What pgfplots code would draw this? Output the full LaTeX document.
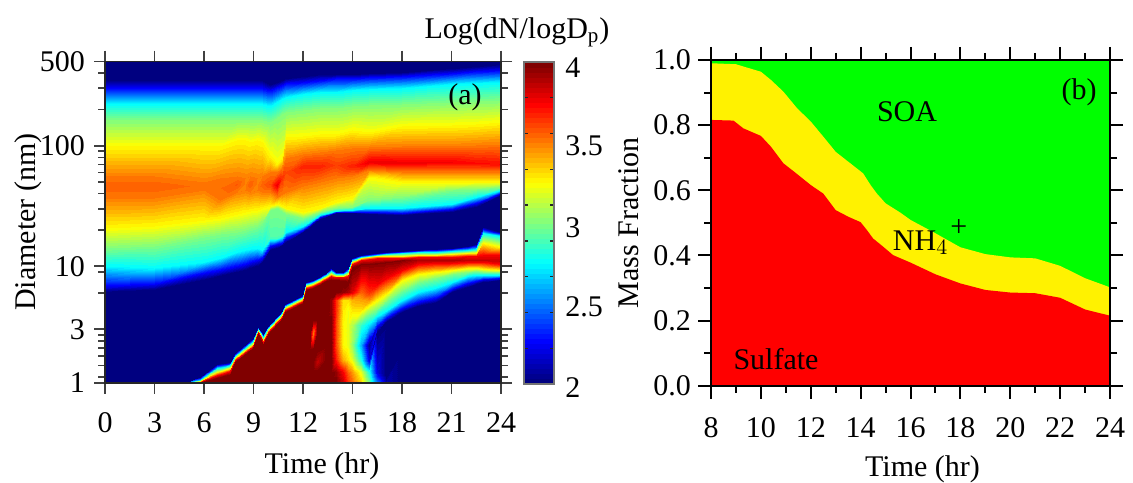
\documentclass[border=0pt]{standalone}
\usepackage{pgfplots}
\pgfplotsset{compat=1.18}
\usepackage{fontspec}
\setmainfont{Liberation Serif}
\pgfplotsset{colormap/jet, colormap={jb}{samples of colormap=(64 of jet)}}
\definecolor{dkb}{RGB}{0,0,128}
\definecolor{pure green}{RGB}{0,255,0}
\newcommand{\fs}{\fontsize{15}{17}\selectfont}
\begin{document}
\begin{tikzpicture}[x=1pt,y=1pt]
\path[use as bounding box] (0,0) rectangle (566.5,241);
\begin{axis}[at={(52.5pt,49.65pt)},anchor=south west,scale only axis,width=198pt,height=160.6pt,
 ymode=log,xmin=0,xmax=24,ymin=1.08,ymax=500,
 xtick={0,3,...,24},ytick={1.08,3,10,100,500},yticklabels={\raisebox{-2.5pt}{1},3,10,100,500},log ticks with fixed point,
 minor ytick={1.2,1.5,1.8,2.1,2.4,2.7,6,9,20,30,40,50,60,70,80,90,200,300,400},
 tick align=outside,xtick pos=both,ytick pos=both,xticklabel pos=bottom,yticklabel pos=left,
 major tick length=5.5pt,minor tick length=3.4pt,
 every tick/.style={black!75,line width=0.8pt},
 axis line style={black!85,line width=0.9pt},
 axis on top,axis background/.style={fill=dkb},
 colormap name=jb,point meta min=2,point meta max=4,
 ticklabel style={font=\fs},/pgf/number format/assume math mode=true,
 xticklabel style={yshift=-6pt},yticklabel style={xshift=-1pt},
 label style={font=\fs},xlabel={Time (hr)},ylabel={Diameter (nm)},
 xlabel style={at={(axis description cs:0.5,0)},anchor=center,yshift=-42pt,xshift=9.5pt},
 ylabel style={at={(axis description cs:0,0.5)},anchor=center,rotate=0,yshift=38.5pt}]
\addplot[surf,shader=interp,colormap access=piecewise constant,mesh/cols=14,point meta=explicit] table[x=t,y=d,meta=v,row sep=\\]{t d v\\
0 500 2\\0 351 2\\0 302 2.25\\0 222 2.75\\0 164 3\\0 99.4 3.25\\0 56.1 3.5\\0 46.3 3.56\\0 36.9 3.5\\0 20.8 3.25\\0 14.2 3\\0 10.1 2.75\\0 6.9 2.25\\0 6.1 2\\
3 500 2\\3 351 2\\3 302 2.25\\3 222 2.75\\3 164 3\\3 99.4 3.25\\3 56.1 3.5\\3 46.3 3.56\\3 36.9 3.5\\3 21.6 3.25\\3 14.7 3\\3 9.7 2.75\\3 7.15 2.25\\3 6.35 2\\
6 500 2\\6 351 2\\6 302 2.25\\6 222 2.75\\6 164 3\\6 99.4 3.25\\6 50 3.5\\6 46.3 3.52\\6 42.9 3.5\\6 24.2 3.25\\6 17.5 3\\6 10.9 2.75\\6 8.8 2.25\\6 7.7 2\\
7 500 2\\7 351 2\\7 302 2.25\\7 222 2.75\\7 164 3\\7 99.4 3.25\\7 54 3.5\\7 44.6 3.53\\7 35.5 3.5\\7 25.2 3.25\\7 18.5 3\\7 11.7 2.75\\7 9.3 2.25\\7 8.33 2\\
8 500 2\\8 351 2\\8 302 2.25\\8 222 2.75\\8 164 3\\8 111 3.25\\8 56.1 3.5\\8 48.2 3.57\\8 41.3 3.5\\8 27.2 3.25\\8 19.3 3\\8 13.2 2.75\\8 10.1 2.25\\8 9 2\\
8.5 500 2\\8.5 351 2\\8.5 302 2.25\\8.5 222 2.75\\8.5 164 3\\8.5 111 3.25\\8.5 54 3.5\\8.5 48.2 3.49\\8.5 42.9 3.5\\8.5 28.2 3.25\\8.5 20 3\\8.5 13.7 2.75\\8.5 10.5 2.25\\8.5 9.3 2\\
8.8 500 2\\8.8 351 2\\8.8 302 2.25\\8.8 222 2.75\\8.8 164 3\\8.8 107 3.25\\8.8 56.1 3.5\\8.8 48.2 3.56\\8.8 41.3 3.5\\8.8 28.7 3.25\\8.8 20.8 3\\8.8 13.9 2.75\\8.8 10.9 2.25\\8.8 9.7 2\\
9.2 500 2\\9.2 351 2\\9.2 302 2.25\\9.2 222 2.75\\9.2 164 3\\9.2 111 3.25\\9.2 54 3.5\\9.2 48.2 3.49\\9.2 42.9 3.5\\9.2 29.3 3.25\\9.2 21.6 3\\9.2 14.2 2.75\\9.2 11.3 2.25\\9.2 10.1 2\\
9.5 500 2\\9.5 351 2\\9.5 302 2.25\\9.5 222 2.75\\9.5 164 3\\9.5 107 3.25\\9.5 56.1 3.5\\9.5 48.2 3.55\\9.5 41.3 3.5\\9.5 30.5 3.25\\9.5 23.3 3\\9.5 13.7 2.75\\9.5 11.7 2.25\\9.5 10.9 2\\
10 500 2\\10 325 2\\10 290 2.25\\10 214 2.75\\10 158 3\\10 83.7 3.25\\10 60.5 3.5\\10 48.2 3.6\\10 41.3 3.5\\10 31.6 3.25\\10 29.3 3\\10 17.2 2.9\\10 14.7 2.25\\10 13.7 2\\
10.4 500 2\\10.4 338 2\\10.4 307 2.25\\10.4 231 2.75\\10.4 170 3\\10.4 71.9 3.25\\10.4 60.5 3.5\\10.4 47.2 3.78\\10.4 37.6 3.5\\10.4 32.9 3.25\\10.4 30.5 3\\10.4 17.2 2.9\\10.4 15.3 2.25\\10.4 14.2 2\\
10.7 500 2\\10.7 351 2\\10.7 319 2.25\\10.7 244 2.75\\10.7 184 3\\10.7 79.1 3.25\\10.7 65.3 3.5\\10.7 54 3.65\\10.7 39.8 3.5\\10.7 31.6 3.25\\10.7 28.7 3\\10.7 17.8 2.9\\10.7 15.6 2.25\\10.7 15 2\\
11 500 2\\11 365 2\\11 331 2.25\\11 254 2.75\\11 191 3\\11 118 3.25\\11 79.1 3.5\\11 60.5 3.6\\11 41.3 3.5\\11 30.5 3.25\\11 27.2 3\\11 19.3 2.75\\11 17.2 2.25\\11 15.9 2\\
12 500 2\\12 379 2\\12 338 2.25\\12 269 2.75\\12 198 3\\12 121 3.25\\12 85.3 3.5\\12 67.9 3.68\\12 46.3 3.5\\12 28.2 3.25\\12 25.2 3\\12 21.6 2.75\\12 20 2.25\\12 19.3 2\\
13 500 2\\13 394 2\\13 351 2.25\\13 280 2.75\\13 206 3\\13 125 3.25\\13 88.7 3.5\\13 67.9 3.68\\13 50 3.5\\13 30.5 3.25\\13 28.2 3\\13 26.6 2.75\\13 25.6 2.25\\13 24.7 2\\
14 500 2\\14 394 2\\14 365 2.25\\14 280 2.75\\14 206 3\\14 125 3.25\\14 92.1 3.5\\14 69.2 3.62\\14 54 3.5\\14 34.2 3.25\\14 30.5 3\\14 28.7 2.75\\14 28.2 2.25\\14 27.7 2\\
15 500 2\\15 394 2\\15 365 2.25\\15 290 2.75\\15 214 3\\15 135 3.25\\15 95.7 3.5\\15 67.9 3.68\\15 56.1 3.5\\15 36.9 3.25\\15 31 3\\15 29.3 2.75\\15 28.2 2.25\\15 27.7 2\\
16 500 2\\16 402 2\\16 372 2.25\\16 296 2.75\\16 218 3\\16 130 3.25\\16 97.5 3.5\\16 73.3 3.78\\16 62.9 3.5\\16 55 3.25\\16 35.5 3\\16 30.5 2.75\\16 28.2 2.25\\16 27.2 2\\
18 500 2\\18 410 2\\18 379 2.25\\18 302 2.75\\18 222 3\\18 146 3.25\\18 99.4 3.5\\18 71.9 3.78\\18 60.5 3.5\\18 50 3.25\\18 37.6 3\\18 30.5 2.75\\18 27.7 2.25\\18 26.6 2\\
21 500 2\\21 442 2\\21 402 2.25\\21 325 2.75\\21 231 3\\21 149 3.25\\21 99.4 3.5\\21 73.3 3.75\\21 60.5 3.5\\21 50 3.25\\21 42.9 3\\21 32.9 2.75\\21 29.9 2.25\\21 28.2 2\\
22.5 500 2\\22.5 459 2\\22.5 417 2.25\\22.5 331 2.75\\22.5 235 3\\22.5 152 3.25\\22.5 101 3.5\\22.5 71.9 3.73\\22.5 60.5 3.5\\22.5 50 3.25\\22.5 43.7 3\\22.5 37.6 2.75\\22.5 33.5 2.25\\22.5 31 2\\
24 500 2\\24 477 2\\24 425 2.25\\24 338 2.75\\24 239 3\\24 158 3.25\\24 103 3.5\\24 70.5 3.72\\24 60.5 3.5\\24 50 3.25\\24 45.5 3\\24 42.9 2.75\\24 40.5 2.25\\24 39 2\\
};
\addplot[surf,shader=interp,colormap access=piecewise constant,mesh/cols=13,point meta=explicit] table[x=t,y=d,meta=v,row sep=\\]{t d v\\
4.9 1.08 2\\4.9 1.08 2.75\\4.9 1.08 3.25\\4.9 1.08 3.75\\4.9 1.08 4\\4.9 1.08 4\\4.9 1.08 4\\4.9 1.08 4\\4.9 1.08 4\\4.9 1.08 4\\4.9 1.08 4\\4.9 1.08 4\\4.9 1.08 4\\
5.75 1.21 2\\5.75 1.14 2.75\\5.75 1.12 3.25\\5.75 1.1 3.75\\5.75 1.08 4\\5.75 1.08 4\\5.75 1.08 4\\5.75 1.08 4\\5.75 1.08 4\\5.75 1.08 4\\5.75 1.08 4\\5.75 1.08 4\\5.75 1.08 4\\
6.8 1.55 2\\6.8 1.44 2.75\\6.8 1.33 3.25\\6.8 1.26 3.75\\6.8 1.19 4\\6.8 1.08 4\\6.8 1.08 4\\6.8 1.08 4\\6.8 1.08 4\\6.8 1.08 4\\6.8 1.08 4\\6.8 1.08 4\\6.8 1.08 4\\
7.2 1.58 2\\7.2 1.47 2.75\\7.2 1.38 3.25\\7.2 1.3 3.75\\7.2 1.23 4\\7.2 1.08 4\\7.2 1.08 4\\7.2 1.08 4\\7.2 1.08 4\\7.2 1.08 4\\7.2 1.08 4\\7.2 1.08 4\\7.2 1.08 4\\
7.6 1.61 2\\7.6 1.52 2.75\\7.6 1.44 3.25\\7.6 1.36 3.75\\7.6 1.26 4\\7.6 1.08 4\\7.6 1.08 4\\7.6 1.08 4\\7.6 1.08 4\\7.6 1.08 4\\7.6 1.08 4\\7.6 1.08 4\\7.6 1.08 4\\
7.9 1.91 2\\7.9 1.8 2.75\\7.9 1.74 3.25\\7.9 1.67 3.75\\7.9 1.61 4\\7.9 1.08 4\\7.9 1.08 4\\7.9 1.08 4\\7.9 1.08 4\\7.9 1.08 4\\7.9 1.08 4\\7.9 1.08 4\\7.9 1.08 4\\
9 2.54 2\\9 2.4 2.75\\9 2.27 3.25\\9 2.19 3.75\\9 2.1 4\\9 1.08 4\\9 1.08 4\\9 1.08 4\\9 1.08 4\\9 1.08 4\\9 1.08 4\\9 1.08 4\\9 1.08 4\\
9.3 3.14 2\\9.3 3.02 2.75\\9.3 2.9 3.25\\9.3 2.85 3.75\\9.3 2.75 4\\9.3 1.08 4\\9.3 1.08 4\\9.3 1.08 4\\9.3 1.08 4\\9.3 1.08 4\\9.3 1.08 4\\9.3 1.08 4\\9.3 1.08 4\\
9.6 2.75 2\\9.6 2.6 2.75\\9.6 2.45 3.25\\9.6 2.36 3.75\\9.6 2.23 4\\9.6 1.08 4\\9.6 1.08 4\\9.6 1.08 4\\9.6 1.08 4\\9.6 1.08 4\\9.6 1.08 4\\9.6 1.08 4\\9.6 1.08 4\\
9.9 3.2 2\\9.9 3.08 2.75\\9.9 2.96 3.25\\9.9 2.85 3.75\\9.9 2.75 4\\9.9 1.08 4\\9.9 1.08 4\\9.9 1.08 4\\9.9 1.08 4\\9.9 1.08 4\\9.9 1.08 4\\9.9 1.08 4\\9.9 1.08 4\\
10.7 4.25 2\\10.7 4.1 2.75\\10.7 3.95 3.25\\10.7 3.8 3.75\\10.7 3.65 4\\10.7 1.08 4\\10.7 1.08 4\\10.7 1.08 4\\10.7 1.08 4\\10.7 1.08 4\\10.7 1.08 4\\10.7 1.08 4\\10.7 1.08 4\\
10.9 4.87 2\\10.9 4.68 2.75\\10.9 4.5 3.25\\10.9 4.33 3.75\\10.9 4.18 4\\10.9 1.08 4\\10.9 1.08 4\\10.9 1.08 4\\10.9 1.08 4\\10.9 1.08 4\\10.9 1.08 4\\10.9 1.08 4\\10.9 1.08 4\\
12 5.8 2\\12 5.55 2.75\\12 5.35 3.25\\12 5.15 3.75\\12 4.95 4\\12 1.08 4\\12 1.08 4\\12 1.08 4\\12 1.08 4\\12 1.08 4\\12 1.08 4\\12 1.08 4\\12 1.08 4\\
12.2 7.4 2\\12.2 7.15 2.75\\12.2 6.9 3.25\\12.2 6.6 3.75\\12.2 6.35 4\\12.2 6.1 4\\12.2 4.78 4\\12.2 3.58 4\\12.2 2.8 4\\12.2 2.02 4\\12.2 1.61 4\\12.2 1.33 4\\12.2 1.08 4\\
12.4 7.55 2\\12.4 7.3 2.75\\12.4 7 3.25\\12.4 6.75 3.75\\12.4 6.5 4\\12.4 6.1 4\\12.4 4.78 4\\12.4 3.58 4\\12.4 2.8 4\\12.4 2.02 4\\12.4 1.61 4\\12.4 1.33 4\\12.4 1.08 4\\
12.6 7.7 2\\12.6 7.4 2.75\\12.6 7.15 3.25\\12.6 6.9 3.75\\12.6 6.6 4\\12.6 6.1 4\\12.6 4.78 4\\12.6 3.58 4\\12.6 2.8 3.5\\12.6 2.02 4\\12.6 1.61 4\\12.6 1.33 4\\12.6 1.08 4\\
12.85 8 2\\12.85 7.7 2.75\\12.85 7.4 3.25\\12.85 7.15 3.75\\12.85 6.9 4\\12.85 6.1 4\\12.85 4.78 4\\12.85 3.58 4\\12.85 2.8 4\\12.85 2.02 4\\12.85 1.61 3.85\\12.85 1.33 4\\12.85 1.08 4\\
13.4 8.8 2\\13.4 8.5 2.75\\13.4 8.15 3.25\\13.4 7.85 3.75\\13.4 7.55 4\\13.4 6.1 4\\13.4 5.25 4\\13.4 4.33 4\\13.4 3.26 4\\13.4 2.23 4\\13.4 1.67 4\\13.4 1.33 4\\13.4 1.08 4\\
13.7 9.7 2\\13.7 9.15 2.75\\13.7 8.65 3.25\\13.7 8.33 3.75\\13.7 7.7 4\\13.7 6.1 4\\13.7 5.25 3.95\\13.7 4.33 3.95\\13.7 3.26 4\\13.7 2.23 4\\13.7 1.67 4\\13.7 1.33 4\\13.7 1.08 4\\
14 9 2\\14 8.65 2.75\\14 8.33 3.25\\14 8.15 3.75\\14 7.7 4\\14 6.1 4\\14 5.25 3.65\\14 4.33 3.65\\14 3.26 3.6\\14 2.23 3.6\\14 1.67 3.7\\14 1.33 3.95\\14 1.08 4\\
14.4 9 2\\14.4 8.65 2.75\\14.4 8.33 3.25\\14.4 8.15 3.75\\14.4 7.55 4\\14.4 6.1 3.95\\14.4 5.25 3.3\\14.4 4.33 3.28\\14.4 3.26 3.25\\14.4 2.23 3.25\\14.4 1.67 3.4\\14.4 1.33 3.75\\14.4 1.08 3.85\\
14.7 9.7 2\\14.7 9.15 2.75\\14.7 8.65 3.25\\14.7 8.33 3.75\\14.7 7.4 4\\14.7 6.1 3.9\\14.7 5.25 3.3\\14.7 4.33 3.22\\14.7 3.26 3.2\\14.7 2.23 3.2\\14.7 1.67 3.3\\14.7 1.33 3.55\\14.7 1.08 3.65\\
15 11.7 2\\15 11.3 2.75\\15 10.9 3.25\\15 10.5 3.75\\15 9.7 4\\15 6.1 3.8\\15 5.25 3.4\\15 4.33 3.3\\15 3.26 3.1\\15 2.23 3.05\\15 1.67 3.2\\15 1.33 3.45\\15 1.08 3.55\\
15.5 12.45 2\\15.5 11.95 2.75\\15.5 11.7 3.25\\15.5 11.3 3.75\\15.5 10.5 3.98\\15.5 6.1 3.55\\15.5 5.25 3.42\\15.5 4.33 3.3\\15.5 3.26 2.85\\15.5 2.23 2.6\\15.5 1.67 2.8\\15.5 1.33 3.2\\15.5 1.08 3.35\\
16 12.7 2\\16 12.2 2.75\\16 11.95 3.25\\16 11.5 3.75\\16 10.5 3.98\\16 6.1 3.65\\16 5.25 3.45\\16 4.33 3.1\\16 3.26 2.7\\16 2.23 2.05\\16 1.67 2.2\\16 1.33 2.8\\16 1.08 3\\
16.5 13 2\\16.5 12.45 2.75\\16.5 12.2 3.25\\16.5 11.7 3.75\\16.5 10.7 3.98\\16.5 7.15 3.75\\16.5 5.25 3.25\\16.5 4.42 3\\16.5 3.87 2.75\\16.5 3.2 2.25\\16.5 2.85 2\\16.5 1.33 2.2\\16.5 1.08 2.5\\
17 13.2 2\\17 12.7 2.75\\17 12.2 3.25\\17 11.7 3.75\\17 10.9 3.98\\17 8 3.75\\17 5.9 3.25\\17 5.15 3\\17 4.25 2.75\\17 3.72 2.25\\17 3.45 2\\17 1.23 2\\17 1.08 2.1\\
18 13.5 2\\18 13 2.75\\18 12.2 3.25\\18 11.7 3.75\\18 11.3 3.98\\18 9.3 3.75\\18 7.7 3.25\\18 6.35 3\\18 5.25 2.75\\18 4.5 2.25\\18 4.18 2\\18 2.02 2\\18 1.08 2\\
19 13.7 2\\19 13.2 2.75\\19 12.45 3.25\\19 11.95 3.75\\19 11.3 3.9\\19 10.5 3.75\\19 8.65 3.25\\19 7.4 3\\19 6.1 2.75\\19 5.05 2.25\\19 4.68 2\\19 2.02 2\\19 1.08 2\\
20 13.9 2\\20 13.2 2.75\\20 12.45 3.25\\20 11.95 3.75\\20 11.3 3.9\\20 10.7 3.75\\20 9 3.25\\20 8 3\\20 6.6 2.75\\20 5.45 2.25\\20 4.95 2\\20 2.02 2\\20 1.08 2\\
21 14.2 2\\21 13.5 2.75\\21 12.7 3.25\\21 11.95 3.75\\21 11.3 3.9\\21 10.7 3.75\\21 9.3 3.25\\21 8.65 3\\21 7.4 2.75\\21 6.5 2.25\\21 6.1 2\\21 2.02 2\\21 1.08 2\\
22 14.7 2\\22 13.7 2.75\\22 13 3.25\\22 12.2 3.75\\22 11.3 3.85\\22 10.9 3.75\\22 9.7 3.25\\22 9 3\\22 8.33 2.75\\22 7.3 2.25\\22 6.75 2\\22 2.02 2\\22 1.08 2\\
22.5 15.3 2\\22.5 13.9 2.75\\22.5 13 3.25\\22.5 12.2 3.75\\22.5 11.3 3.85\\22.5 10.9 3.75\\22.5 9.7 3.25\\22.5 9.15 3\\22.5 8.5 2.75\\22.5 7.55 2.25\\22.5 7.15 2\\22.5 2.02 2\\22.5 1.08 2\\
22.9 21.2 2\\22.9 18.9 2.75\\22.9 15.6 3.25\\22.9 12.45 3.75\\22.9 11.3 3.85\\22.9 10.9 3.75\\22.9 9.5 3.25\\22.9 9 3\\22.9 8.5 2.75\\22.9 7.85 2.25\\22.9 7.4 2\\22.9 2.02 2\\22.9 1.08 2\\
24 19.3 2\\24 17.8 2.75\\24 14.5 3.25\\24 12.45 3.75\\24 11.1 3.85\\24 10.5 3.75\\24 9.3 3.25\\24 9 3\\24 8.5 2.75\\24 8 2.25\\24 7.7 2\\24 2.02 2\\24 1.08 2\\
};
\end{axis}
\begin{axis}[at={(262pt,49pt)},anchor=south west,scale only axis,width=15pt,height=161pt,
 xmin=0,xmax=1,ymin=2,ymax=4,xtick=\empty,
 ytick={2.222,2.444,2.667,2.889,3.111,3.333,3.556,3.778},yticklabels={},
 tick align=inside,ytick pos=both,major tick length=2pt,every tick/.style={black!85,line width=0.7pt},
 axis line style={black!55,line width=0.9pt},axis on top,
 colormap name=jb,point meta min=2,point meta max=4]
\addplot[surf,shader=interp,colormap access=piecewise constant,mesh/cols=2,point meta=explicit] table[x=t,y=d,meta=v,row sep=\\]{t d v\\ 0 2 2\\ 1 2 2\\ 0 4 4\\ 1 4 4\\};
\end{axis}
\begin{axis}[at={(355.5pt,48.15pt)},anchor=south west,scale only axis,width=199.5pt,height=162.85pt,
 xmin=8,xmax=24,ymin=0,ymax=1,xtick={8,10,...,24},ytick={0,0.2,...,1},
 minor xtick={9,11,...,23},minor ytick={0.1,0.3,0.5,0.7,0.9},
 tick align=outside,xtick pos=both,ytick pos=both,xticklabel pos=bottom,yticklabel pos=left,
 major tick length=6.5pt,minor tick length=3.5pt,every tick/.style={black,line width=1pt},
 axis line style={black,line width=1.1pt},axis on top,axis background/.style={fill=pure green},
 ticklabel style={font=\fs},/pgf/number format/assume math mode=true,
 yticklabel style={/pgf/number format/fixed,/pgf/number format/fixed zerofill,/pgf/number format/precision=1},
 xticklabel style={yshift=-6pt},
 label style={font=\fs},xlabel={Time (hr)},ylabel={Mass Fraction},
 xlabel style={at={(axis description cs:0.5,0)},anchor=center,yshift=-42pt,xshift=6pt},
 ylabel style={at={(axis description cs:0,0.5)},anchor=center,yshift=41pt}]
\addplot[fill=yellow,draw=none] coordinates {(8,0)(8,.99)(9,.987)(9.3,.98)(10,.964)(10.4,.939)(10.9,.903)(11.45,.852)(12,.811)(12.5,.765)(13,.718)(13.5,.688)(14.1,.652)(14.4,.616)(14.65,.59)(15,.56)(15.6,.531)(16,.509)(17,.468)(17.3,.455)(18,.425)(19,.404)(20,.394)(21,.391)(22,.368)(23,.33)(24,.302)(24,0)} \closedcycle;
\addplot[fill=red,draw=none] coordinates {(8,0)(8,.816)(8.9,.814)(9.3,.79)(10,.767)(10.4,.734)(10.9,.683)(11.45,.65)(12,.616)(12.5,.59)(13,.539)(13.5,.519)(14,.502)(14.25,.478)(14.5,.452)(14.9,.427)(15.3,.401)(16,.378)(17,.342)(18,.314)(19,.294)(20,.286)(21,.284)(22,.27)(23,.234)(24,.215)(24,0)} \closedcycle;
\end{axis}
\node[font=\fs,anchor=center] at (232.5,192.5) {(a)};
\node[font=\fs,anchor=center] at (539.5,195) {(b)};
\node[font=\fs,anchor=center] at (453.5,185) {SOA};
\node[font=\fs,anchor=center] at (388,61.5) {Sulfate};
\node[font=\fs,anchor=center,inner sep=0pt] at (460.3,119.5) {NH$_4$};
\node[font=\fs,anchor=west,inner sep=0pt] at (475,127) {+};
\node[font=\fs,anchor=center] at (258.5,225) {Log(dN/logD$_{\mathrm{p}}$)};
\foreach \yy/\tt in {207/4,168/3.5,127/3,87.5/2.5,47/2}{\node[font=\fs,anchor=west,inner sep=0pt] at (282.5,\yy) {\tt};}
\end{tikzpicture}
\end{document}
